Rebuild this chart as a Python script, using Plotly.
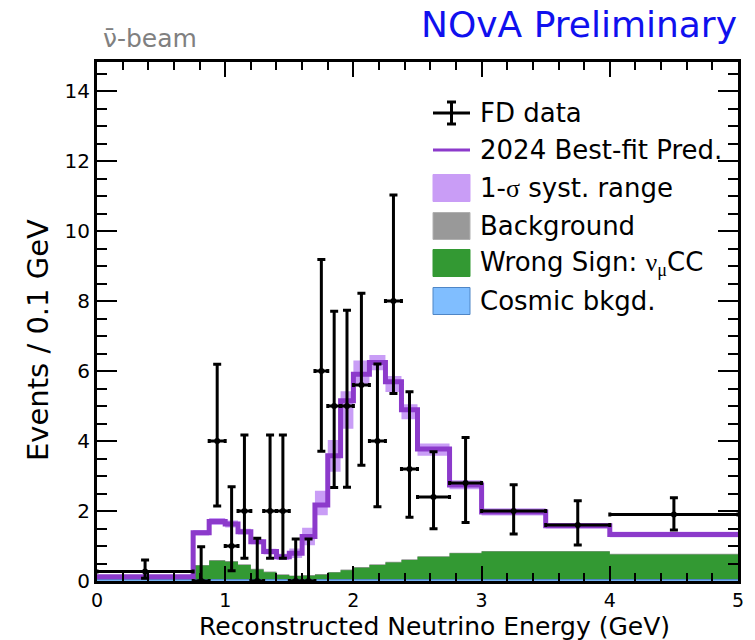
import plotly.graph_objects as go

# ---------------- data ----------------
bin_edges = [0, 0.75, 0.875, 1.0, 1.1, 1.2, 1.3, 1.4, 1.5, 1.6, 1.7, 1.8, 1.9, 2.0,
             2.125, 2.25, 2.375, 2.5, 2.75, 3.0, 3.5, 4.0, 5.0]

fd_data = [0.27, 0, 4, 1, 2, 0, 2, 2, 0, 0, 6, 5, 5, 5.6, 4, 8, 3.2, 2.4, 2.8, 2.0, 1.6, 1.9]
fd_err_high = [0.60, 0.98, 6.19, 2.69, 4.17, 1.22, 4.17, 4.17, 1.20, 1.20, 9.19, 7.71, 7.74,
               8.22, 6.20, 11.03, 5.41, 3.69, 4.10, 2.75, 2.29, 2.38]
fd_err_low = [0.08, 0, 2.14, 0.29, 0.65, 0, 0.65, 0.65, 0, 0, 3.71, 2.67, 2.68,
              3.31, 2.12, 5.36, 1.82, 1.49, 1.67, 1.34, 1.03, 1.46]

best_fit = [0.12, 1.38, 1.70, 1.63, 1.41, 1.12, 0.84, 0.69, 0.79, 1.27, 2.17, 3.58, 5.15,
            5.91, 6.24, 5.69, 4.89, 3.77, 2.74, 1.97, 1.58, 1.33]
syst_high = [0.15, 1.46, 1.80, 1.73, 1.49, 1.19, 0.92, 0.78, 0.93, 1.52, 2.58, 4.03, 5.42,
             6.30, 6.46, 5.86, 5.05, 3.93, 2.88, 2.08, 1.66, 1.41]
syst_low = [0.09, 1.30, 1.60, 1.53, 1.33, 1.05, 0.76, 0.60, 0.66, 1.02, 1.88, 3.12, 4.35,
            5.62, 6.02, 5.40, 4.62, 3.58, 2.62, 1.87, 1.50, 1.25]

background = [0.04, 0.46, 0.60, 0.57, 0.48, 0.35, 0.27, 0.19, 0.16, 0.17, 0.20, 0.26, 0.33,
              0.40, 0.48, 0.55, 0.62, 0.71, 0.81, 0.86, 0.86, 0.78]
wrong_sign = [0.0, 0.44, 0.58, 0.55, 0.46, 0.33, 0.25, 0.17, 0.14, 0.15, 0.18, 0.24, 0.31,
              0.38, 0.46, 0.53, 0.60, 0.69, 0.79, 0.84, 0.84, 0.76]
cosmic = [0.04] * 22

x_ticks = [0, 1, 2, 3, 4, 5]
y_ticks = [0, 2, 4, 6, 8, 10, 12, 14]

legend_labels = ["FD data", "2024 Best-fit Pred.",
                 "1-<span style='font-family:Liberation Serif'>σ</span> syst. range",
                 "Background",
                 "Wrong Sign: <span style='font-family:Liberation Serif'>ν</span><sub><span style='font-family:Liberation Serif'>μ</span></sub>CC",
                 "Cosmic bkgd."]

# ---------------- styling ----------------
PURPLE = "#8C3ACB"
BAND = "#C99DF6"
GREEN = "#339933"
GRAY = "#999999"
COSMIC = "#80BEFF"
COSMIC_LINE = "#4F86C6"
FONT = "DejaVu Sans"

W, H = 755, 640
ML, MR, MT, MB = 97, 17, 62, 59
PW, PH = W - ML - MR, H - MT - MB


def px(x):
    return (x - ML) / PW


def py(y):
    return (H - MB - y) / PH


def step(vals):
    return list(vals) + [vals[-1]]


lo = bin_edges[:-1]
hi = bin_edges[1:]
centers = [(a + b) / 2 for a, b in zip(lo, hi)]
halfw = [(b - a) / 2 for a, b in zip(lo, hi)]

fig = go.Figure()

# syst band
fig.add_trace(go.Scatter(x=bin_edges, y=step(syst_low), mode="lines", line_shape="hv",
                         line=dict(width=0, color=BAND), showlegend=False, hoverinfo="skip"))
fig.add_trace(go.Scatter(x=bin_edges, y=step(syst_high), mode="lines", line_shape="hv",
                         line=dict(width=0, color=BAND), fill="tonexty", fillcolor=BAND,
                         showlegend=False, hoverinfo="skip"))
# background stack
fig.add_trace(go.Scatter(x=bin_edges, y=step(background), mode="lines", line_shape="hv",
                         line=dict(width=0, color=GRAY), fill="tozeroy", fillcolor=GRAY,
                         showlegend=False))
fig.add_trace(go.Scatter(x=bin_edges, y=step(wrong_sign), mode="lines", line_shape="hv",
                         line=dict(width=0, color=GREEN), fill="tozeroy", fillcolor=GREEN,
                         showlegend=False))
fig.add_trace(go.Scatter(x=bin_edges, y=step(cosmic), mode="lines", line_shape="hv",
                         line=dict(width=1.2, color=COSMIC_LINE), fill="tozeroy", fillcolor=COSMIC,
                         showlegend=False))
# best fit
fig.add_trace(go.Scatter(x=bin_edges, y=step(best_fit), mode="lines", line_shape="hv",
                         line=dict(width=5, color=PURPLE), showlegend=False))
# data
fig.add_trace(go.Scatter(
    x=centers, y=fd_data, mode="markers",
    marker=dict(color="black", size=6),
    error_y=dict(type="data", symmetric=False,
                 array=[h - v for h, v in zip(fd_err_high, fd_data)],
                 arrayminus=[v - l for v, l in zip(fd_data, fd_err_low)],
                 thickness=3, width=4, color="black"),
    error_x=dict(type="data", array=halfw, thickness=3, width=2, color="black"),
    showlegend=False))

# ---------------- manual legend ----------------
shapes = []
annotations = []
row_y = [113, 150, 188, 226, 263, 301]
sx0, sx1 = 433, 470
text_x = 478
# FD data symbol
yc = row_y[0]
shapes.append(dict(type="line", xref="paper", yref="paper", x0=px(sx0), x1=px(sx1),
                   y0=py(yc), y1=py(yc), line=dict(color="black", width=3)))
shapes.append(dict(type="line", xref="paper", yref="paper", x0=px(451.5), x1=px(451.5),
                   y0=py(yc - 11), y1=py(yc + 11), line=dict(color="black", width=3)))
for dy in (-11, 11):
    shapes.append(dict(type="line", xref="paper", yref="paper", x0=px(447), x1=px(456),
                       y0=py(yc + dy), y1=py(yc + dy), line=dict(color="black", width=3)))
# Best fit line
yc = row_y[1]
shapes.append(dict(type="line", xref="paper", yref="paper", x0=px(sx0), x1=px(sx1),
                   y0=py(yc), y1=py(yc), line=dict(color=PURPLE, width=3)))
# boxes
for yc, fc, lc in [(row_y[2], BAND, BAND), (row_y[3], GRAY, "#B0B0B0"),
                   (row_y[4], GREEN, GREEN), (row_y[5], COSMIC, COSMIC_LINE)]:
    shapes.append(dict(type="rect", xref="paper", yref="paper", x0=px(sx0), x1=px(sx1),
                       y0=py(yc - 13.5), y1=py(yc + 13.5), fillcolor=fc,
                       line=dict(color=lc, width=1)))
for yc, lab in zip(row_y, legend_labels):
    annotations.append(dict(x=px(text_x), y=py(yc), xref="paper", yref="paper",
                            text=lab, showarrow=False, xanchor="left", yanchor="middle",
                            font=dict(family=FONT, size=26, color="black")))

# header texts
annotations.append(dict(x=px(101), y=py(38), xref="paper", yref="paper",
                        text="ν\u0304-beam", showarrow=False, xanchor="left", yanchor="middle",
                        font=dict(family=FONT, size=25, color="#808080")))
annotations.append(dict(x=px(739), y=py(24), xref="paper", yref="paper",
                        text="NOvA Preliminary", showarrow=False, xanchor="right",
                        yanchor="middle", font=dict(family=FONT, size=36, color="#1010EE")))
# axis titles
annotations.append(dict(x=px(434), y=py(626), xref="paper", yref="paper",
                        text="Reconstructed Neutrino Energy (GeV)", showarrow=False,
                        xanchor="center", yanchor="middle",
                        font=dict(family=FONT, size=25, color="black")))
annotations.append(dict(x=px(38), y=py(340), xref="paper", yref="paper",
                        text="Events / 0.1 GeV", showarrow=False, textangle=-90,
                        xanchor="center", yanchor="middle",
                        font=dict(family=FONT, size=29, color="black")))

axis_common = dict(showline=True, linecolor="black", linewidth=3, mirror="allticks",
                   ticks="inside", tickcolor="black", tickwidth=1.5, showgrid=False,
                   zeroline=False, tickfont=dict(family=FONT, size=19, color="black"))

fig.update_layout(
    width=W, height=H,
    margin=dict(l=ML, r=MR, t=MT, b=MB),
    paper_bgcolor="white", plot_bgcolor="white",
    showlegend=False,
    shapes=shapes, annotations=annotations,
    xaxis=dict(range=[0, 5], tickvals=x_ticks, ticktext=[str(v) for v in x_ticks],
               ticklen=15, ticklabelstandoff=0,
               minor=dict(dtick=0.2, ticklen=8, ticks="inside",
                          tickcolor="black", tickwidth=1.5),
               **axis_common),
    yaxis=dict(range=[0, 14.83], tickvals=y_ticks, ticktext=[str(v) for v in y_ticks],
               ticklen=20, tickfont=dict(family=FONT, size=20, color="black"),
               minor=dict(dtick=0.5, ticklen=10, ticks="inside",
                          tickcolor="black", tickwidth=1.5),
               **{k: v for k, v in axis_common.items() if k != "tickfont"}),
)

fig.write_html("out.html")
